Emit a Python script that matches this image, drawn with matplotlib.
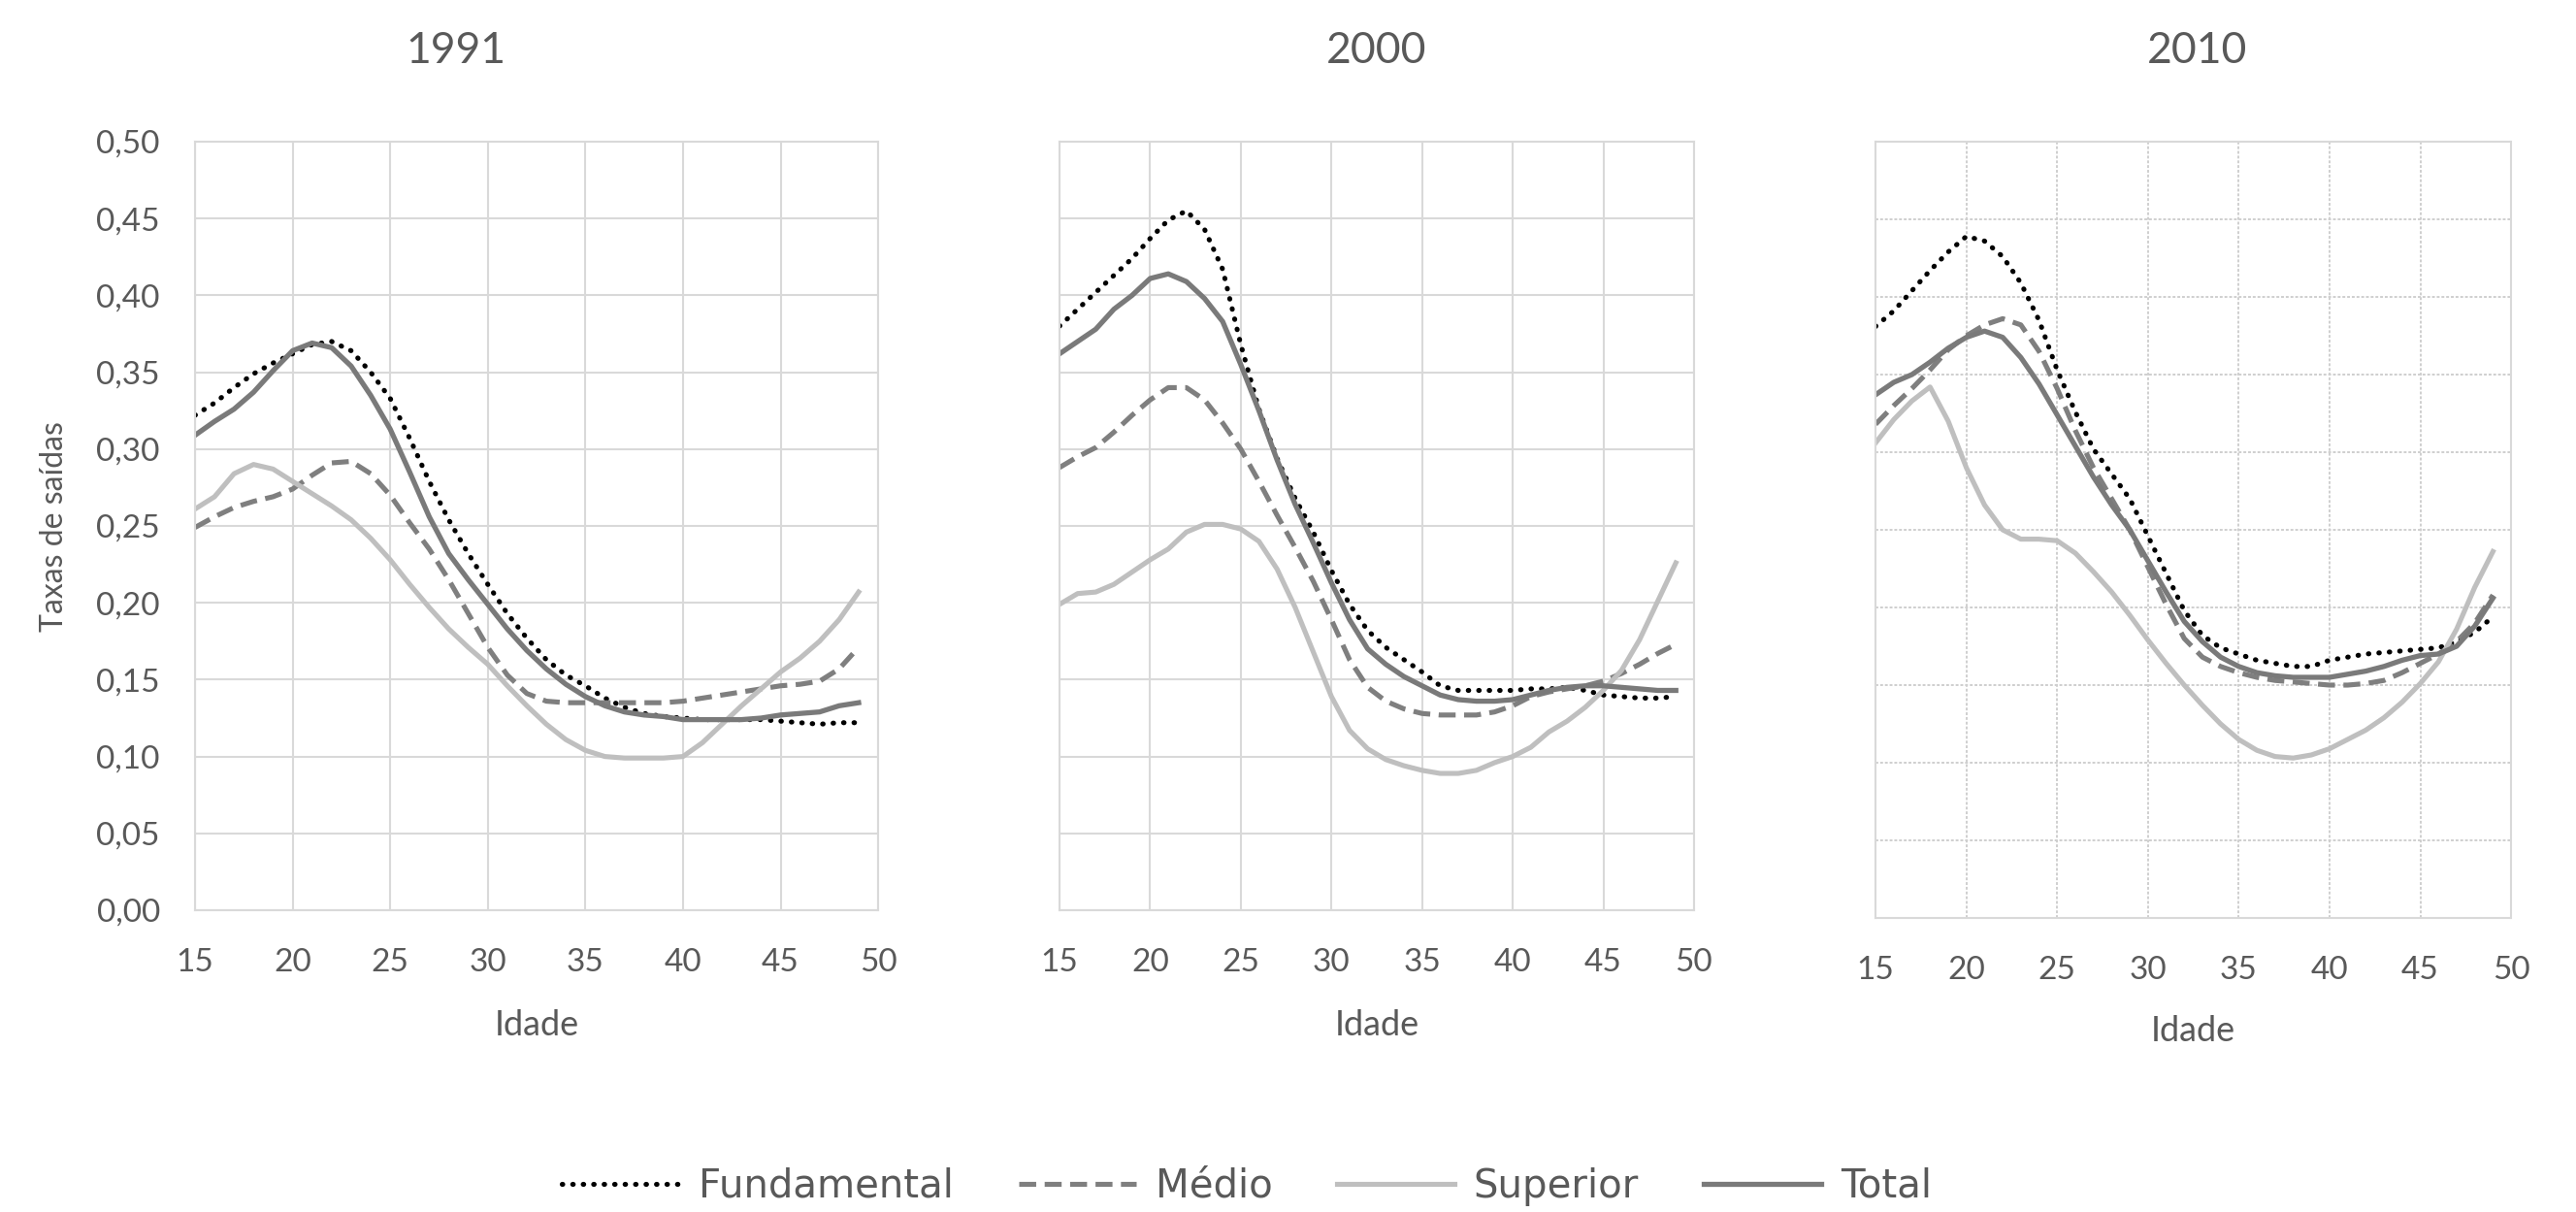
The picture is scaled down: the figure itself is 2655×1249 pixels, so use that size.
import numpy as np
import matplotlib.pyplot as plt
from matplotlib.lines import Line2D

# idades 15..49
idades = list(range(15, 50))
anos = ["1991", "2000", "2010"]
series_nomes = ["Fundamental", "Médio", "Superior", "Total"]

fund_1991 = [.322, .330, .340, .349, .356, .362, .368, .370, .364, .350, .333, .307, .279, .254, .232,
             .212, .193, .177, .163, .153, .146, .138, .132, .128, .126, .125, .124, .124, .124, .124,
             .123, .122, .121, .122, .122]
medio_1991 = [.249, .256, .262, .266, .269, .274, .283, .291, .292, .284, .270, .252, .235, .215, .193,
              .171, .153, .141, .136, .135, .135, .135, .135, .135, .135, .136, .138, .140, .142, .144,
              .146, .147, .149, .157, .171]
sup_1991 = [.261, .269, .284, .290, .287, .279, .271, .263, .254, .242, .228, .212, .197, .183, .171,
            .160, .146, .133, .121, .111, .104, .100, .099, .099, .099, .100, .109, .121, .133, .144,
            .155, .164, .175, .189, .207]
total_1991 = [.309, .318, .326, .337, .351, .364, .369, .366, .354, .335, .313, .285, .256, .232, .215,
              .199, .183, .169, .157, .147, .139, .133, .129, .127, .126, .124, .124, .124, .124, .125,
              .127, .128, .129, .133, .135]

fund_2000 = [.380, .391, .402, .413, .424, .437, .449, .455, .443, .417, .368, .326, .294, .268, .246,
             .221, .199, .182, .171, .163, .155, .146, .143, .143, .143, .143, .144, .144, .145, .143,
             .140, .139, .138, .138, .139]
medio_2000 = [.288, .295, .301, .311, .322, .332, .340, .340, .332, .317, .300, .279, .257, .236, .214,
              .189, .163, .145, .136, .131, .128, .127, .127, .127, .129, .133, .139, .142, .144, .146,
              .149, .154, .160, .167, .173]
sup_2000 = [.199, .206, .207, .212, .220, .228, .235, .246, .251, .251, .248, .240, .222, .197, .168,
            .139, .117, .105, .098, .094, .091, .089, .089, .091, .096, .100, .106, .116, .123, .132,
            .143, .156, .176, .201, .226]
total_2000 = [.362, .370, .378, .391, .400, .411, .414, .409, .398, .383, .355, .325, .293, .264, .239,
              .213, .189, .170, .160, .152, .146, .140, .137, .136, .136, .137, .140, .143, .145, .146,
              .146, .145, .144, .143, .143]

fund_2010 = [.381, .391, .404, .417, .429, .439, .436, .426, .409, .385, .353, .326, .302, .286, .270,
             .246, .222, .198, .182, .174, .170, .166, .164, .162, .162, .166, .168, .170, .171, .172,
             .173, .174, .178, .184, .194]
medio_2010 = [.318, .330, .341, .353, .366, .375, .382, .386, .382, .365, .341, .314, .290, .270, .250,
              .226, .202, .180, .168, .162, .158, .155, .153, .152, .151, .150, .150, .151, .153, .158,
              .164, .170, .178, .190, .208]
sup_2010 = [.306, .321, .333, .342, .320, .290, .266, .250, .244, .244, .243, .235, .223, .210, .195,
            .179, .164, .150, .137, .125, .115, .108, .104, .103, .105, .109, .115, .121, .129, .139,
            .151, .165, .186, .213, .236]
total_2010 = [.337, .345, .350, .358, .367, .374, .378, .374, .361, .344, .324, .304, .284, .266, .250,
              .230, .210, .191, .178, .168, .162, .158, .156, .155, .155, .155, .157, .159, .162, .166,
              .169, .170, .175, .188, .206]

dados = {
    "1991": [fund_1991, medio_1991, sup_1991, total_1991],
    "2000": [fund_2000, medio_2000, sup_2000, total_2000],
    "2010": [fund_2010, medio_2010, sup_2010, total_2010],
}

x_ticks = [15, 20, 25, 30, 35, 40, 45, 50]
y_ticks = [0.0, 0.05, 0.10, 0.15, 0.20, 0.25, 0.30, 0.35, 0.40, 0.45, 0.50]

txt_cor = "#595959"
grid_cor = "#d9d9d9"

estilos = [
    dict(color="black", lw=3.7, linestyle=(0, (0.1, 2.0)), dash_capstyle="round"),
    dict(color="#7f7f7f", lw=3.7, linestyle=(0, (3.4, 1.7))),
    dict(color="#bfbfbf", lw=3.7, linestyle="-"),
    dict(color="#7a7a7a", lw=3.8, linestyle="-"),
]

plt.rcParams['font.family'] = ['Lato', 'DejaVu Sans']

fig = plt.figure(figsize=(26.55, 12.49), dpi=100)

posicoes = [
    [0.0757, 0.249, 0.2652, 0.6341],
    [0.4113, 0.249, 0.2463, 0.6341],
    [0.7281, 0.2426, 0.2467, 0.6405],
]
titulos_x = [0.177, 0.5345, 0.853]

for i, ano in enumerate(anos):
    ax = fig.add_axes(posicoes[i])
    for serie, nome, st in zip(dados[ano], series_nomes, estilos):
        ax.plot(idades, serie, label=nome, **st)

    ax.set_xlim(15, 50)
    ax.set_ylim(0, 0.5)
    ax.set_xticks(x_ticks)
    ax.set_yticks(y_ticks)
    if i == 2:
        ax.grid(True, color="#cfcfcf", lw=1.4, linestyle=(0, (1.5, 1)))
    else:
        ax.grid(True, color=grid_cor, lw=1.5)
    ax.set_axisbelow(True)
    for sp in ax.spines.values():
        sp.set_color(grid_cor)
        sp.set_linewidth(1.5)
        if i == 2:
            sp.set_linestyle((0, (1.5, 1)))
    ax.tick_params(length=0, labelsize=24, labelcolor=txt_cor)
    ax.tick_params(axis='x', pad=28)
    ax.tick_params(axis='y', pad=26)
    if i == 0:
        ax.set_yticklabels([f"{v:.2f}".replace(".", ",") for v in y_ticks])
    else:
        ax.set_yticklabels([])
    ax.set_xlabel("Idade", fontsize=26, color=txt_cor)
    ax.xaxis.set_label_coords(0.5, -0.15 if i < 2 else -0.146)
    ax.xaxis.label.set_va("center")
    fig.text(titulos_x[i], 0.9576, ano, fontsize=32, color=txt_cor, ha="center", va="center")

fig.text(0.021, 0.566, "Taxas de saídas", rotation=90, fontsize=23, color=txt_cor,
         ha="center", va="center")

handles = [Line2D([], [], **st) for st in estilos]
fig.legend(handles, series_nomes, loc="center", bbox_to_anchor=(0.484, 0.021), ncol=4,
           frameon=False, prop={'family': 'DejaVu Sans', 'size': 29}, labelcolor=txt_cor,
           handlelength=3.0, handletextpad=0.5, columnspacing=1.65)

fig.savefig("out.png", dpi=100)
